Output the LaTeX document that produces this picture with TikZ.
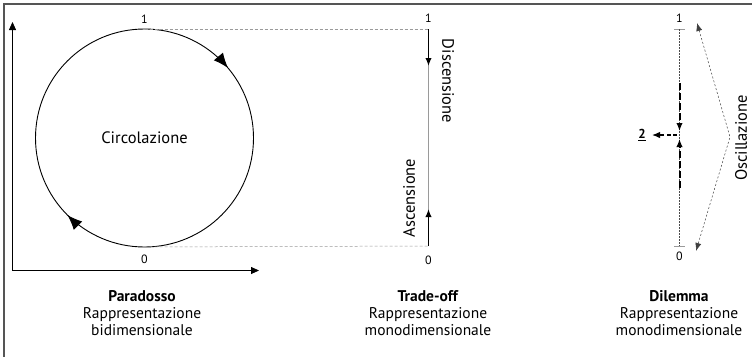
\documentclass[tikz,border=0pt]{standalone}
\usepackage{fontspec}
\setmainfont{PT Sans}
\usetikzlibrary{arrows.meta,decorations.markings}
\definecolor{framegray}{HTML}{555555}
\definecolor{guidegray}{HTML}{9A9A9A}
\begin{document}
\begin{tikzpicture}[x=1pt,y=-1pt,
  lbl/.style={font=\fontsize{16.5}{19}\selectfont, inner sep=0pt},
  ticklbl/.style={font=\fontsize{12}{14}\selectfont, inner sep=0pt},
  caption/.style={font=\fontsize{15.5}{17}\selectfont, align=center, anchor=north, inner sep=0pt},
  axis/.style={line width=0.8pt, {Triangle[length=8pt,width=7pt]}-{Triangle[length=8pt,width=7pt]}},
  guide/.style={guidegray, line width=0.5pt, dash pattern=on 3pt off 2pt},
  smalltip/.style={-{Latex[length=8pt,width=6.5pt]}},
  seg/.style={line width=1.6pt, black, smalltip},
  dseg/.style={line width=2pt, black, dash pattern=on 7pt off 3pt, smalltip},
  osc/.style={line width=0.5pt, black!75, dash pattern=on 2pt off 2pt,
    {Latex[length=8pt,width=6pt]}-{Latex[length=8pt,width=6pt]}},
  circarrows/.style={line width=0.9pt, postaction={decorate}, decoration={markings,
    mark=at position 0.375 with {\arrow{Latex[length=15pt,width=12pt]}},
    mark=at position 0.889 with {\arrow{Latex[length=15pt,width=12pt]}}}}
]
\useasboundingbox (0,0) rectangle (752,356);

% outer frame (only top and left edges fall inside the page)
\begin{scope}
  \clip (0,0) rectangle (752,356);
  \draw[framegray, line width=1.5pt] (4,4) rectangle (770,380);
\end{scope}

% --- Paradosso: two-dimensional view ---
\coordinate (O) at (12.5,270.5);
\coordinate (Ytop) at (12.5,22);
\coordinate (Xend) at (259,270.5);
\draw[axis] (Ytop) -- (O) -- (Xend);

\node[circle, minimum size=218pt, inner sep=0pt, outer sep=0pt, lbl] (circ) at (144.5,138) {Circolazione};
\draw[circarrows] (circ.center) circle[radius=109];
\node[ticklbl] (c1) at (144.5,19) {1};
\node[ticklbl] (c0) at (144.5,259) {0};

% --- Trade-off: one-dimensional view ---
\coordinate (T1) at (428.5,29);
\coordinate (T0) at (428.5,246);
\coordinate (Td) at (428.5,66);
\coordinate (Tu) at (428.5,209);
\draw[guide] (circ.north) -- (T1);
\draw[guide] (circ.south) -- (T0);
\draw[guidegray, line width=0.6pt] (T1) -- (T0);
\draw[seg] (T1) -- (Td);
\draw[seg] (T0) -- (Tu);
\node[ticklbl] (t1) at (428.5,18) {1};
\node[ticklbl] (t0) at (428.5,260) {0};
\node[lbl, rotate=-90] (desc) at (448,81) {Discensione};
\node[lbl, rotate=90] (asc) at (409,198) {Ascensione};

% --- Dilemma: one-dimensional view ---
\coordinate (D1) at (679.5,29);
\coordinate (D0) at (679.5,246);
\coordinate (D1l) at (674,29);
\coordinate (D1r) at (685,29);
\coordinate (D0l) at (674,246);
\coordinate (D0r) at (685,246);
\draw[guidegray, line width=0.8pt] (D1l) -- (D1r);
\draw[guidegray, line width=0.8pt] (D0l) -- (D0r);
\draw[black!70, line width=0.5pt, dash pattern=on 1.5pt off 1.5pt] (D1) -- (D0);
\coordinate (Da) at (679.5,83);
\coordinate (Db) at (679.5,131);
\coordinate (Dc) at (679.5,188);
\coordinate (Dd) at (679.5,139);
\draw[dseg] (Da) -- (Db);
\draw[dseg] (Dc) -- (Dd);
\coordinate (Hs) at (677,135);
\coordinate (He) at (652,135);
\draw[line width=1.3pt, dash pattern=on 4pt off 2.5pt, smalltip] (Hs) -- (He);
\node[ticklbl, font=\fontsize{13}{15}\selectfont\bfseries] (two) at (642,135) {\underline{2}};
\node[ticklbl] (d1) at (679.5,18) {1};
\node[ticklbl] (d0) at (679.5,256) {0};

\coordinate (OA) at (697,23);
\coordinate (OV) at (730,137);
\coordinate (OB) at (696,251);
\draw[osc] (OA) -- (OV) -- (OB);
\node[lbl, rotate=90] (osclbl) at (741,138) {Oscillazione};

% --- captions ---
\node[caption] (par) at (142,290) {\textbf{Paradosso}\\Rappresentazione\\bidimensionale};
\node[caption] (trd) at (428,290) {\textbf{Trade-off}\\Rappresentazione\\monodimensionale};
\node[caption] (dil) at (679,290) {\textbf{Dilemma}\\Rappresentazione\\monodimensionale};
\end{tikzpicture}
\end{document}
